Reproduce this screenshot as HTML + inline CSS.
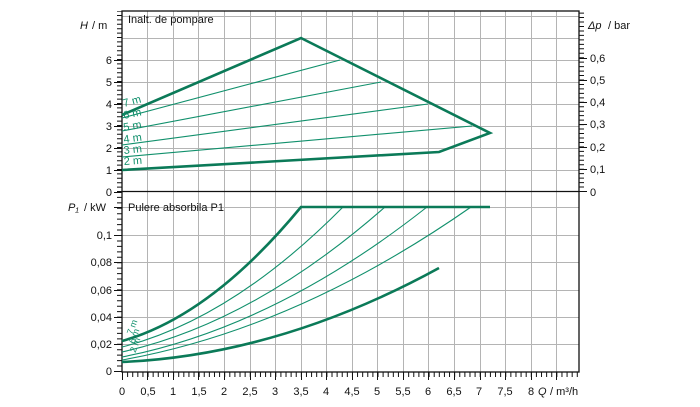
<!DOCTYPE html>
<html><head><meta charset="utf-8"><style>
html,body{margin:0;padding:0;background:#fff;}
svg{display:block;font-family:"Liberation Sans",Arial,sans-serif;}
</style></head><body>
<svg width="700" height="407" viewBox="0 0 700 407" xmlns="http://www.w3.org/2000/svg">
<rect width="700" height="407" fill="#fff"/>
<g stroke="#b4b4b4" stroke-width="1">
<!-- vertical grid -->
<path d="M147.5 11V372M173.5 11V372M198.5 11V372M224.5 11V372M250.5 11V372M275.5 11V372M301.5 11V372M326.5 11V372M352.5 11V372M377.5 11V372M403.5 11V372M428.5 11V372M454.5 11V372M480.5 11V372M505.5 11V372M531.5 11V372M556.5 11V372"/>
<!-- top horizontal grid -->
<path d="M122 170.5H579M122 148.5H579M122 126.5H579M122 104.5H579M122 82.5H579M122 60.5H579M122 38.5H579M122 16.5H579"/>
<!-- bottom horizontal grid -->
<path d="M122 344.5H579M122 317.5H579M122 290.5H579M122 262.5H579M122 235.5H579M122 207.5H579"/>
</g>
<g fill="none" stroke="#111" stroke-width="1.3">
<rect x="122" y="11" width="457" height="361"/>
<path d="M122 191.5H579"/>
</g>
<!-- ticks -->
<g fill="none" stroke="#111">
<path d="M119.5 192V11" stroke-width="5" stroke-dasharray="1 3.4"/>
<path d="M119.5 372V192" stroke-width="5" stroke-dasharray="1 4.44"/>
<path d="M122 374.5H579" stroke-width="5" stroke-dasharray="1 4.11"/>
<path d="M581.5 192V11" stroke-width="5" stroke-dasharray="1 3.46"/>
<path d="M114 192.5h8M114 170.5h8M114 148.5h8M114 126.5h8M114 104.5h8M114 82.5h8M114 60.5h8M114 371.5h8M114 344.5h8M114 317.5h8M114 290.5h8M114 262.5h8M114 235.5h8M114 207.5h8M579 191.5h8M579 169.5h8M579 147.5h8M579 124.5h8M579 102.5h8M579 80.5h8M579 58.5h8" stroke-width="1"/>
<path d="M122.5 372v8M147.5 372v8M173.5 372v8M198.5 372v8M224.5 372v8M250.5 372v8M275.5 372v8M301.5 372v8M326.5 372v8M352.5 372v8M377.5 372v8M403.5 372v8M428.5 372v8M454.5 372v8M480.5 372v8M505.5 372v8M531.5 372v8M556.5 372v8" stroke-width="1"/>
</g>
<!-- curves top -->
<g fill="none" stroke="#11906c" stroke-width="1.1">
<path d="M122 118L340 60"/>
<path d="M122 131L381 82"/>
<path d="M122 145L428 104"/>
<path d="M122 157L472 126"/>
</g>
<g fill="none" stroke="#0b7a58" stroke-width="2.6" stroke-linejoin="miter">
<path d="M122 115L301 38L490 133L439 152L122 170"/>
</g>
<!-- curves bottom -->
<g fill="none" stroke="#11906c" stroke-width="1.1">
<path d="M122 347Q232 319 343 207"/>
<path d="M122 352Q253 323 385 207"/>
<path d="M122 357Q275 327 427 207"/>
<path d="M122 360Q296 329 471 207"/>
</g>
<g fill="none" stroke="#0b7a58" stroke-width="2.6">
<path d="M122 341Q211 316 301 207H490"/>
<path d="M122 362Q280 355 439 268"/>
</g>
<!-- curve labels -->
<g fill="#11906c" font-size="11">
<text x="124" y="107" transform="rotate(-15 124 107)">7 m</text>
<text x="124" y="119" transform="rotate(-12 124 119)">6 m</text>
<text x="124" y="131" transform="rotate(-10 124 131)">5 m</text>
<text x="124" y="143" transform="rotate(-8 124 143)">4 m</text>
<text x="124" y="154" transform="rotate(-6 124 154)">3 m</text>
<text x="124" y="165" transform="rotate(-4 124 165)">2 m</text>
</g>
<g fill="#11906c" font-size="9">
<text x="126" y="334" transform="rotate(-70 130 330)">7 m</text>
<text x="128" y="343" transform="rotate(-70 132 339)">6 m</text>
<text x="129" y="352" transform="rotate(-70 133 348)">2 m</text>
</g>
<!-- labels -->
<g fill="#111" font-size="11">
<text x="128" y="23">Inalt. de pompare</text>
<text x="128" y="211">Pulere absorbila P1</text>
<text x="80" y="29" font-style="italic">H</text><text x="92" y="29">/ m</text>
<text x="588" y="29" font-style="italic">Δp</text><text x="608" y="29">/ bar</text>
<text x="68" y="211" font-style="italic">P₁</text><text x="84" y="211">/ kW</text>
<g text-anchor="end">
<text x="112" y="196">0</text><text x="112" y="174">1</text><text x="112" y="152">2</text><text x="112" y="130">3</text><text x="112" y="108">4</text><text x="112" y="86">5</text><text x="112" y="64">6</text>
<text x="112" y="375">0</text><text x="112" y="348">0,02</text><text x="112" y="321">0,04</text><text x="112" y="294">0,06</text><text x="112" y="266">0,08</text><text x="112" y="239">0,1</text>
</g>
<text x="590" y="196">0</text><text x="590" y="173">0,1</text><text x="590" y="151">0,2</text><text x="590" y="128">0,3</text><text x="590" y="106">0,4</text><text x="590" y="84">0,5</text><text x="590" y="62">0,6</text>
<g text-anchor="middle">
<text x="122" y="395">0</text><text x="148" y="395">0,5</text><text x="173" y="395">1</text><text x="199" y="395">1,5</text><text x="224" y="395">2</text><text x="250" y="395">2,5</text><text x="275" y="395">3</text><text x="301" y="395">3,5</text><text x="326" y="395">4</text><text x="352" y="395">4,5</text><text x="377" y="395">5</text><text x="403" y="395">5,5</text><text x="428" y="395">6</text><text x="454" y="395">6,5</text><text x="479" y="395">7</text><text x="505" y="395">7,5</text><text x="531" y="395">8</text>
</g>
<text x="538" y="395" font-style="italic">Q</text><text x="550" y="395">/ m³/h</text>
</g>
</svg>
</body></html>
